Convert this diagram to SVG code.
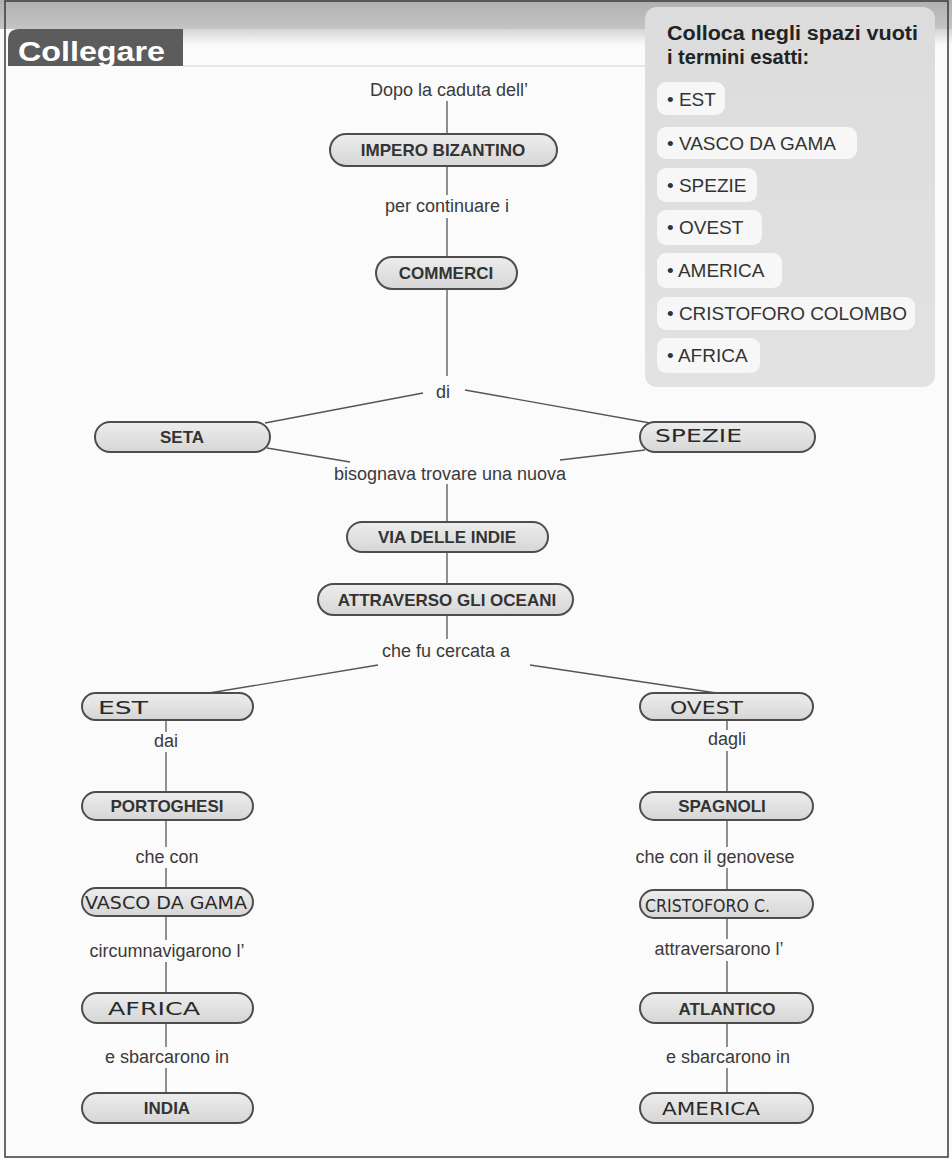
<svg xmlns="http://www.w3.org/2000/svg" width="952" height="1159" viewBox="0 0 952 1159">
<defs>
<linearGradient id="pillFill" x1="0" y1="0" x2="0" y2="1">
<stop offset="0" stop-color="#ededed"/>
<stop offset="1" stop-color="#d6d6d6"/>
</linearGradient>
<linearGradient id="topBand" x1="0" y1="0" x2="0" y2="1">
<stop offset="0" stop-color="#b0b0b0"/>
<stop offset="1" stop-color="#c4c4c4"/>
</linearGradient>
<linearGradient id="underBand" x1="0" y1="0" x2="0" y2="1">
<stop offset="0" stop-color="#d4d4d4"/>
<stop offset="1" stop-color="#fbfbfb"/>
</linearGradient>
<linearGradient id="panelFill" x1="0" y1="0" x2="0" y2="1">
<stop offset="0" stop-color="#dcdcdc"/>
<stop offset="1" stop-color="#e2e2e2"/>
</linearGradient>
</defs>
<style>
.pill{fill:url(#pillFill);stroke:#4d4d4d;stroke-width:2}
.lbl{font-family:"Liberation Sans",Arial,sans-serif;font-size:17px;font-weight:bold;fill:#333;text-anchor:middle}
.hand{font-family:"DejaVu Sans","Liberation Sans",sans-serif;font-size:18px;fill:#2a2a2a}
.txt{font-family:"Liberation Sans",Arial,sans-serif;font-size:18px;fill:#3a3a3a;text-anchor:middle}
.conn line{stroke:#555;stroke-width:1.3}
.item{fill:#f7f7f7}
.itxt{font-family:"Liberation Sans",Arial,sans-serif;font-size:19px;fill:#333}
</style>
<rect x="0" y="0" width="952" height="1159" fill="#fbfbfb"/>
<rect x="0" y="0" width="952" height="29" fill="url(#topBand)"/>
<rect x="183" y="29" width="769" height="16" fill="url(#underBand)"/>
<line x1="183" y1="66" x2="645" y2="66" stroke="#e2e2e2" stroke-width="1.5"/>
<rect x="5" y="1" width="943" height="1156" fill="none" stroke="#3a3a3a" stroke-width="1.5"/>

<g id="title">
<path d="M8 66 V40 Q8 29 19 29 H183 V66 Z" fill="#5c5c5c"/>
<text x="18" y="61" font-family="'Liberation Sans',Arial,sans-serif" font-size="28" font-weight="bold" fill="#ffffff" textLength="147" lengthAdjust="spacingAndGlyphs">Collegare</text>
</g>

<g id="panel">
<rect x="645" y="7" width="290" height="380" rx="12" fill="url(#panelFill)"/>
<text x="667" y="40" font-family="'Liberation Sans',Arial,sans-serif" font-size="20" font-weight="bold" fill="#222" textLength="251" lengthAdjust="spacingAndGlyphs">Colloca negli spazi vuoti</text>
<text x="667" y="64" font-family="'Liberation Sans',Arial,sans-serif" font-size="20" font-weight="bold" fill="#222">i termini esatti:</text>
<rect class="item" x="657" y="82" width="68" height="33" rx="9"/>
<text class="itxt" x="667" y="106">• EST</text>
<rect class="item" x="657" y="127" width="200" height="32" rx="9"/>
<text class="itxt" x="667" y="150">• VASCO DA GAMA</text>
<rect class="item" x="657" y="168" width="100" height="34" rx="9"/>
<text class="itxt" x="667" y="192">• SPEZIE</text>
<rect class="item" x="657" y="210" width="105" height="35" rx="9"/>
<text class="itxt" x="667" y="234">• OVEST</text>
<rect class="item" x="657" y="253" width="125" height="35" rx="9"/>
<text class="itxt" x="667" y="277">• AMERICA</text>
<rect class="item" x="657" y="297" width="258" height="33" rx="9"/>
<text class="itxt" x="667" y="320" textLength="240" lengthAdjust="spacingAndGlyphs">• CRISTOFORO COLOMBO</text>
<rect class="item" x="657" y="338" width="103" height="35" rx="9"/>
<text class="itxt" x="667" y="362">• AFRICA</text>
</g>

<g id="connectors" class="conn">
<line x1="447" y1="101" x2="447" y2="134"/>
<line x1="447" y1="166" x2="447" y2="195"/>
<line x1="447" y1="218" x2="447" y2="257"/>
<line x1="447" y1="289" x2="447" y2="376"/>
<line x1="423" y1="393" x2="265" y2="423"/>
<line x1="465" y1="390" x2="650" y2="423"/>
<line x1="267" y1="448" x2="350" y2="462"/>
<line x1="645" y1="450" x2="560" y2="460"/>
<line x1="447" y1="484" x2="447" y2="522"/>
<line x1="447" y1="552" x2="447" y2="584"/>
<line x1="447" y1="615" x2="447" y2="639"/>
<line x1="378" y1="665" x2="203" y2="694"/>
<line x1="530" y1="665" x2="723" y2="694"/>
<line x1="166" y1="720" x2="166" y2="732"/>
<line x1="166" y1="752" x2="166" y2="792"/>
<line x1="166" y1="820" x2="166" y2="847"/>
<line x1="166" y1="868" x2="166" y2="888"/>
<line x1="166" y1="916" x2="166" y2="940"/>
<line x1="166" y1="962" x2="166" y2="993"/>
<line x1="166" y1="1023" x2="166" y2="1047"/>
<line x1="166" y1="1068" x2="166" y2="1093"/>
<line x1="727" y1="720" x2="727" y2="730"/>
<line x1="727" y1="751" x2="727" y2="792"/>
<line x1="727" y1="820" x2="727" y2="847"/>
<line x1="727" y1="868" x2="727" y2="890"/>
<line x1="727" y1="918" x2="727" y2="939"/>
<line x1="727" y1="961" x2="727" y2="993"/>
<line x1="727" y1="1023" x2="727" y2="1047"/>
<line x1="727" y1="1068" x2="727" y2="1093"/>
</g>

<g id="labels">
<text class="txt" x="449" y="96">Dopo la caduta dell’</text>
<text class="txt" x="447" y="212">per continuare i</text>
<text class="txt" x="443" y="398">di</text>
<text class="txt" x="450" y="480">bisognava trovare una nuova</text>
<text class="txt" x="446" y="657">che fu cercata a</text>
<text class="txt" x="166" y="747">dai</text>
<text class="txt" x="167" y="863">che con</text>
<text class="txt" x="167" y="957">circumnavigarono l’</text>
<text class="txt" x="167" y="1063">e sbarcarono in</text>
<text class="txt" x="727" y="745">dagli</text>
<text class="txt" x="715" y="863">che con il genovese</text>
<text class="txt" x="719" y="955">attraversarono l’</text>
<text class="txt" x="728" y="1063">e sbarcarono in</text>
</g>

<g id="n-impero"><rect class="pill" x="330" y="134" width="227" height="32" rx="16"/><text class="lbl" x="443" y="156">IMPERO BIZANTINO</text></g>
<g id="n-commerci"><rect class="pill" x="376" y="257" width="141" height="32" rx="16"/><text class="lbl" x="446" y="279">COMMERCI</text></g>
<g id="n-seta"><rect class="pill" x="95" y="422" width="175" height="30" rx="15"/><text class="lbl" x="182" y="443">SETA</text></g>
<g id="n-spezie"><rect class="pill" x="640" y="422" width="175" height="30" rx="15"/><text class="hand" x="655" y="442" textLength="87" lengthAdjust="spacingAndGlyphs">SPEZIE</text></g>
<g id="n-via"><rect class="pill" x="347" y="522" width="201" height="30" rx="15"/><text class="lbl" x="447" y="543">VIA DELLE INDIE</text></g>
<g id="n-attraverso"><rect class="pill" x="318" y="584" width="255" height="31" rx="15.5"/><text class="lbl" x="447" y="606">ATTRAVERSO GLI OCEANI</text></g>
<g id="n-est"><rect class="pill" x="82" y="693" width="171" height="27" rx="13.5"/><text class="hand" x="98" y="714" textLength="50" lengthAdjust="spacingAndGlyphs">EST</text></g>
<g id="n-portoghesi"><rect class="pill" x="82" y="792" width="171" height="28" rx="14"/><text class="lbl" x="167" y="812">PORTOGHESI</text></g>
<g id="n-vasco"><rect class="pill" x="82" y="888" width="171" height="28" rx="14"/><text class="hand" x="85" y="909" textLength="162" lengthAdjust="spacingAndGlyphs">VASCO DA GAMA</text></g>
<g id="n-africa"><rect class="pill" x="82" y="993" width="171" height="30" rx="15"/><text class="hand" x="108" y="1015" textLength="92" lengthAdjust="spacingAndGlyphs">AFRICA</text></g>
<g id="n-india"><rect class="pill" x="82" y="1093" width="171" height="30" rx="15"/><text class="lbl" x="167" y="1114">INDIA</text></g>
<g id="n-ovest"><rect class="pill" x="640" y="693" width="173" height="27" rx="13.5"/><text class="hand" x="670" y="714" textLength="73" lengthAdjust="spacingAndGlyphs">OVEST</text></g>
<g id="n-spagnoli"><rect class="pill" x="640" y="792" width="173" height="28" rx="14"/><text class="lbl" x="722" y="812">SPAGNOLI</text></g>
<g id="n-cristoforo"><rect class="pill" x="640" y="890" width="173" height="28" rx="14"/><text class="hand" x="645" y="912" textLength="125" lengthAdjust="spacingAndGlyphs">CRISTOFORO C.</text></g>
<g id="n-atlantico"><rect class="pill" x="640" y="993" width="173" height="30" rx="15"/><text class="lbl" x="727" y="1015">ATLANTICO</text></g>
<g id="n-america"><rect class="pill" x="640" y="1093" width="173" height="30" rx="15"/><text class="hand" x="662" y="1115" textLength="98" lengthAdjust="spacingAndGlyphs">AMERICA</text></g>
</svg>
